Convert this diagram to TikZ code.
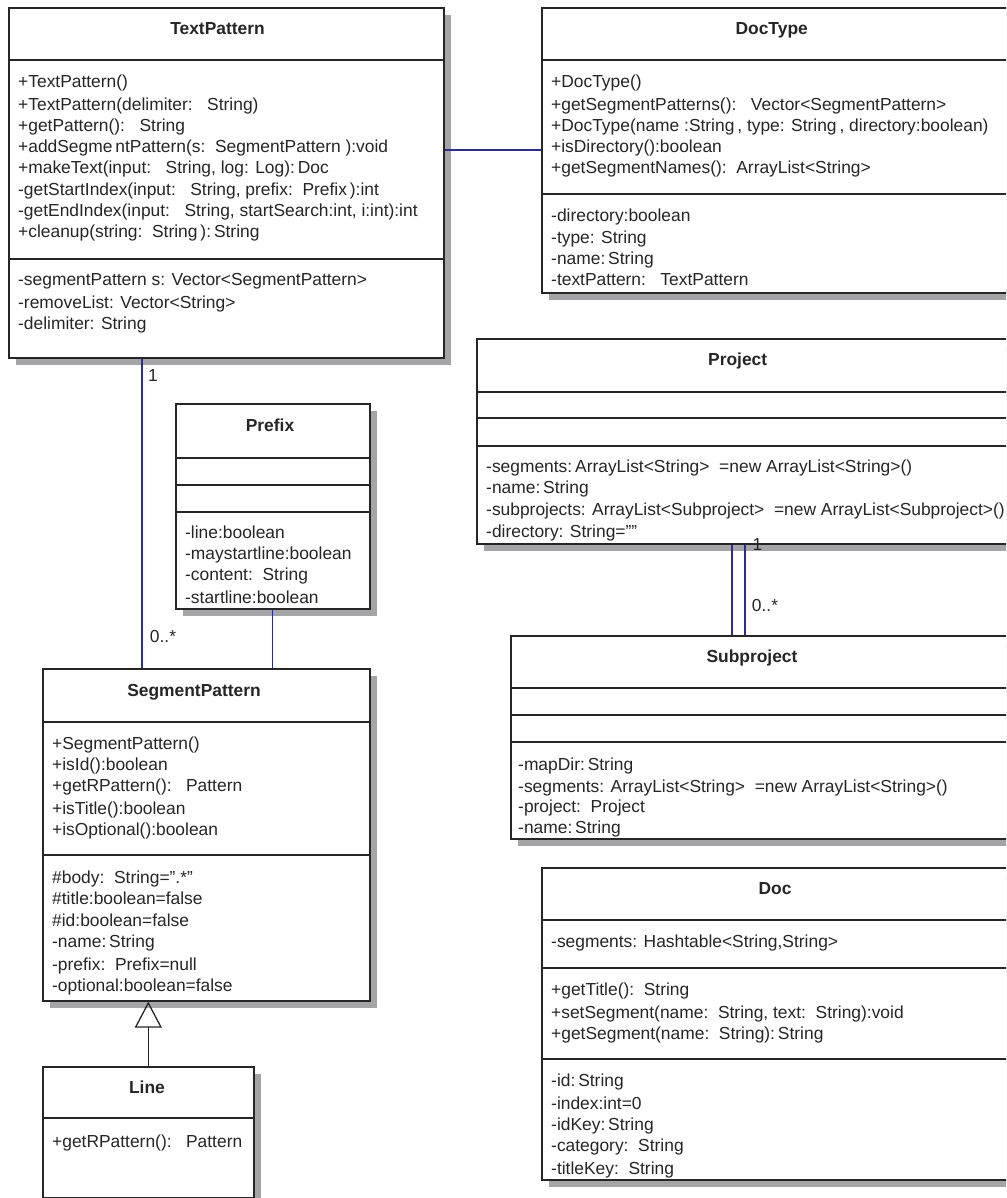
\documentclass[tikz,border=0pt]{standalone}
\usepackage{fontspec}
\setmainfont{Liberation Sans}
\usetikzlibrary{shadows,arrows.meta}

\definecolor{umlblue}{RGB}{43,45,145}
\definecolor{shadowgray}{RGB}{165,165,168}
\newcommand{\umlfont}{\fontsize{17.4pt}{21pt}\selectfont}

\tikzset{
  classbox/.style={draw=black!85, line width=1.6pt, fill=white, anchor=north west,
    inner sep=0pt,
    drop shadow={shadow xshift=7pt, shadow yshift=-7pt, fill=shadowgray, opacity=1}},
  sep/.style={draw=black!85, line width=1.4pt},
  classname/.style={anchor=base, inner sep=0pt, text=black!85, font=\umlfont\bfseries},
  member/.style={anchor=base west, inner sep=0pt, text=black!85, font=\umlfont},
  mult/.style={inner sep=0pt, text=black!85, font=\umlfont},
  assoc/.style={umlblue, line width=1.3pt},
  generalize/.style={black!85, line width=1.3pt, -{Triangle[open, length=26pt, width=27pt, line width=1.3pt]}}
}

\begin{document}
\begin{tikzpicture}[x=1pt, y=-1pt]

  \useasboundingbox (0,0) rectangle (1006,1198);
  \clip (0,0) rectangle (1006,1198);

  % ========== 左上：TextPattern ==========
  \node[classbox, minimum width=435pt, minimum height=350pt] (textpattern) at (8,7) {};
  \draw[sep] ([yshift=-53pt]textpattern.north west) -- ([yshift=-53pt]textpattern.north east);
  \draw[sep] ([yshift=-252pt]textpattern.north west) -- ([yshift=-252pt]textpattern.north east);
  \node[classname] (tp-name) at (217.5,34.5) {TextPattern};
  \node[member] (tp-m1) at (18,87.9) {+TextPattern()};
  \node[member] (tp-m2) at (18,110.5) {+TextPattern(delimiter:~~~String)};
  \node[member] (tp-m3) at (18,131.9) {+getPattern():~~~String};
  \node[member] (tp-m4) at (18,152.9) {+addSegme\,ntPattern(s:~~SegmentPattern~):void};
  \node[member] (tp-m5) at (18,173.5) {+makeText(input:~~~String, log: Log):\,Doc};
  \node[member] (tp-m6) at (18,195.5) {-getStartIndex(input:~~~String, prefix:~~Prefix\,):int};
  \node[member] (tp-m7) at (18,216.2) {-getEndIndex(input:~~~String, startSearch:int, i:int):int};
  \node[member] (tp-m8) at (18,237.2) {+cleanup(string:~~String\,):\,String};
  \node[member] (tp-a1) at (18,285.5) {-segmentPattern s: Vector<SegmentPattern>};
  \node[member] (tp-a2) at (18,308.9) {-removeList: Vector<String>};
  \node[member] (tp-a3) at (18,329.5) {-delimiter: String};

  % ========== 右上：DocType ==========
  \node[classbox, minimum width=480pt, minimum height=285pt] (doctype) at (541,7) {};
  \draw[sep] ([yshift=-53pt]doctype.north west) -- ([yshift=-53pt]doctype.north east);
  \draw[sep] ([yshift=-187pt]doctype.north west) -- ([yshift=-187pt]doctype.north east);
  \node[classname] (dt-name) at (771.7,34.5) {DocType};
  \node[member] (dt-m1) at (551,87.9) {+DocType()};
  \node[member] (dt-m2) at (551,110.5) {+getSegmentPatterns():~~~Vector<SegmentPattern>};
  \node[member] (dt-m3) at (551,131.9) {+DocType(name :String\,, type: String\,, directory:boolean)};
  \node[member] (dt-m4) at (551,152.9) {+isDirectory():boolean};
  \node[member] (dt-m5) at (551,173.5) {+getSegmentNames():~~ArrayList<String>};
  \node[member] (dt-a1) at (551,221.2) {-directory:boolean};
  \node[member] (dt-a2) at (551,243.5) {-type: String};
  \node[member] (dt-a3) at (551,264.5) {-name:\,String};
  \node[member] (dt-a4) at (551,285.2) {-textPattern:~~~TextPattern};

  % ========== Project ==========
  \node[classbox, minimum width=545pt, minimum height=205pt] (project) at (476,338) {};
  \draw[sep] ([yshift=-54pt]project.north west) -- ([yshift=-54pt]project.north east);
  \draw[sep] ([yshift=-80pt]project.north west) -- ([yshift=-80pt]project.north east);
  \draw[sep] ([yshift=-108pt]project.north west) -- ([yshift=-108pt]project.north east);
  \node[classname] (pj-name) at (737.7,365.5) {Project};
  \node[member] (pj-a1) at (486,472.9) {-segments:\,ArrayList<String>~~=new ArrayList<String>()};
  \node[member] (pj-a2) at (486,493.5) {-name:\,String};
  \node[member] (pj-a3) at (486,515.2) {-subprojects: ArrayList<Subproject>~~=new ArrayList<Subproject>()};
  \node[member] (pj-a4) at (486,537.2) {-directory: String=""};

  % ========== Subproject ==========
  \node[classbox, minimum width=511pt, minimum height=203pt] (subproject) at (510,635) {};
  \draw[sep] ([yshift=-53pt]subproject.north west) -- ([yshift=-53pt]subproject.north east);
  \draw[sep] ([yshift=-80pt]subproject.north west) -- ([yshift=-80pt]subproject.north east);
  \draw[sep] ([yshift=-107pt]subproject.north west) -- ([yshift=-107pt]subproject.north east);
  \node[classname] (sp-name) at (752,662.9) {Subproject};
  \node[member] (sp-a1) at (518,770.2) {-mapDir:\,String};
  \node[member] (sp-a2) at (518,792.2) {-segments: ArrayList<String>~~=new ArrayList<String>()};
  \node[member] (sp-a3) at (518,812.2) {-project:~~Project};
  \node[member] (sp-a4) at (518,833.5) {-name:\,String};

  % ========== Doc ==========
  \node[classbox, minimum width=480pt, minimum height=312pt] (doc) at (541,867) {};
  \draw[sep] ([yshift=-53pt]doc.north west) -- ([yshift=-53pt]doc.north east);
  \draw[sep] ([yshift=-101pt]doc.north west) -- ([yshift=-101pt]doc.north east);
  \draw[sep] ([yshift=-192pt]doc.north west) -- ([yshift=-192pt]doc.north east);
  \node[classname] (dc-name) at (775,894.5) {Doc};
  \node[member] (dc-a0) at (551,947.9) {-segments: Hashtable<String,String>};
  \node[member] (dc-m1) at (551,995.2) {+getTitle():~~String};
  \node[member] (dc-m2) at (551,1018.5) {+setSegment(name:~~String, text:~~String):void};
  \node[member] (dc-m3) at (551,1039.5) {+getSegment(name:~~String):\,String};
  \node[member] (dc-a1) at (551,1086.2) {-id:\,String};
  \node[member] (dc-a2) at (551,1109.5) {-index:int=0};
  \node[member] (dc-a3) at (551,1130.5) {-idKey:\,String};
  \node[member] (dc-a4) at (551,1151.2) {-category:~~String};
  \node[member] (dc-a5) at (551,1174.5) {-titleKey:~~String};

  % ========== Prefix ==========
  \node[classbox, minimum width=194pt, minimum height=205pt] (prefix) at (175,403) {};
  \draw[sep] ([yshift=-55pt]prefix.north west) -- ([yshift=-55pt]prefix.north east);
  \draw[sep] ([yshift=-82pt]prefix.north west) -- ([yshift=-82pt]prefix.north east);
  \draw[sep] ([yshift=-109pt]prefix.north west) -- ([yshift=-109pt]prefix.north east);
  \node[classname] (pf-name) at (270,431.2) {Prefix};
  \node[member] (pf-a1) at (185,538.5) {-line:boolean};
  \node[member] (pf-a2) at (185,559.5) {-maystartline:boolean};
  \node[member] (pf-a3) at (185,580.5) {-content:~~String};
  \node[member] (pf-a4) at (185,603.5) {-startline:boolean};

  % ========== SegmentPattern ==========
  \node[classbox, minimum width=327pt, minimum height=332pt] (segmentpattern) at (42,668) {};
  \draw[sep] ([yshift=-54pt]segmentpattern.north west) -- ([yshift=-54pt]segmentpattern.north east);
  \draw[sep] ([yshift=-187pt]segmentpattern.north west) -- ([yshift=-187pt]segmentpattern.north east);
  \node[classname] (sg-name) at (194,696.2) {SegmentPattern};
  \node[member] (sg-m1) at (52,749.5) {+SegmentPattern()};
  \node[member] (sg-m2) at (52,770.5) {+isId():boolean};
  \node[member] (sg-m3) at (52,791.5) {+getRPattern():~~~Pattern};
  \node[member] (sg-m4) at (52,814.5) {+isTitle():boolean};
  \node[member] (sg-m5) at (52,835.5) {+isOptional():boolean};
  \node[member] (sg-a1) at (52,883.5) {\#body:~~String=".*"};
  \node[member] (sg-a2) at (52,904.5) {\#title:boolean=false};
  \node[member] (sg-a3) at (52,926.2) {\#id:boolean=false};
  \node[member] (sg-a4) at (52,947.9) {-name:\,String};
  \node[member] (sg-a5) at (52,970.2) {-prefix:~~Prefix=null};
  \node[member] (sg-a6) at (52,991.2) {-optional:boolean=false};

  % ========== Line ==========
  \node[classbox, minimum width=211pt, minimum height=131pt] (linecls) at (42,1066) {};
  \draw[sep] ([yshift=-52pt]linecls.north west) -- ([yshift=-52pt]linecls.north east);
  \node[classname] (ln-name) at (147,1093.5) {Line};
  \node[member] (ln-m1) at (52,1147.9) {+getRPattern():~~~Pattern};

  % 关联线（蓝色）
  \draw[assoc] ([yshift=-143pt]textpattern.north east) -- ([yshift=-143pt]doctype.north west);
  \draw[assoc] ([xshift=134pt]textpattern.south west) -- ([xshift=100pt]segmentpattern.north west);
  \draw[assoc] (prefix.south) -- (prefix.south |- segmentpattern.north);
  \draw[assoc] ([xshift=256pt]project.south west) -- ([xshift=222pt]subproject.north west);
  \draw[assoc] ([xshift=269pt]project.south west) -- ([xshift=235pt]subproject.north west);

  % 多重性
  \node[mult] (tp-one) at (153,376) {1};
  \node[mult] (sg-many) at (163,637) {0..*};
  \node[mult] (pj-one) at (757.5,545) {1};
  \node[mult] (sp-many) at (765,606) {0..*};

  % 继承：Line -> SegmentPattern
  \draw[generalize] (linecls.north) -- (linecls.north |- segmentpattern.south);

\end{tikzpicture}
\end{document}
